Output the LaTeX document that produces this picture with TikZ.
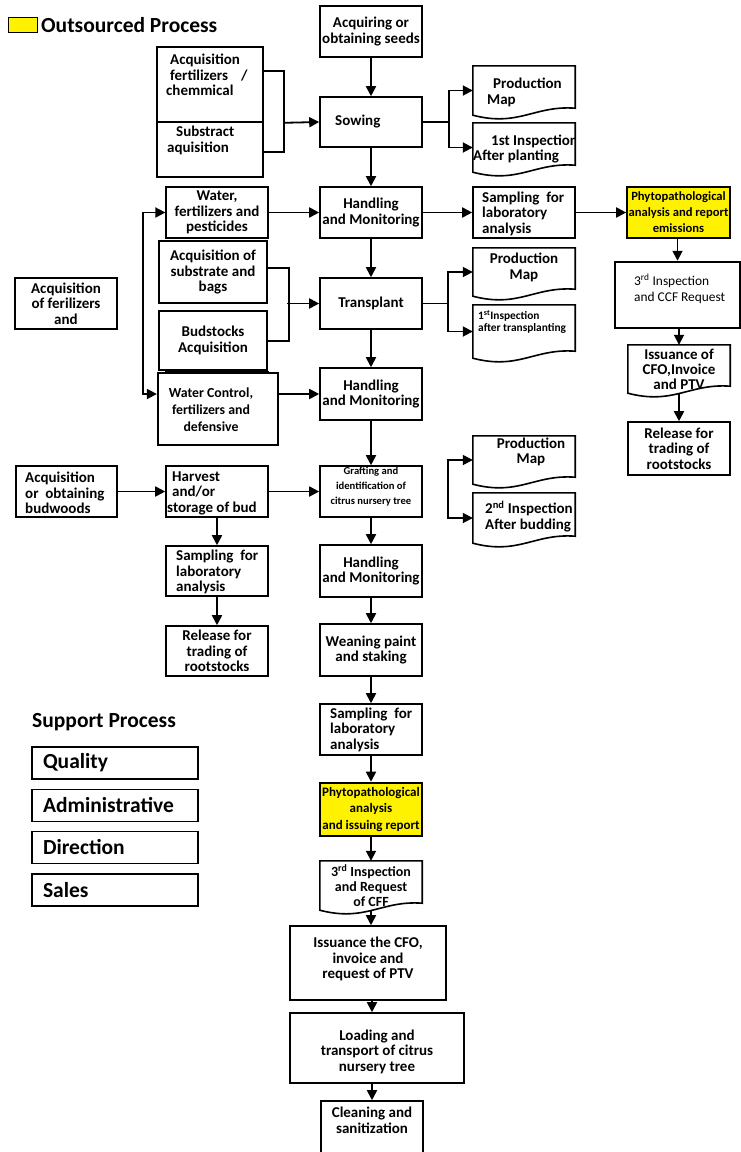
\documentclass[tikz,border=0pt]{standalone}
\usepackage{fontspec}
\setmainfont{Carlito}
\usetikzlibrary{arrows.meta,calc}
\definecolor{hiyellow}{RGB}{255,242,0}
\newcommand\mainfnt{\bfseries\fontsize{15}{15.5}\selectfont}
\newcommand\titlefnt{\bfseries\fontsize{21.5}{24}\selectfont}
\newcommand\graftfnt{\bfseries\fontsize{10.6}{15}\selectfont}
\newcommand\phyfnt{\bfseries\fontsize{12.6}{16}\selectfont}
\newcommand\regfnt{\fontsize{13.4}{16}\selectfont}
\newcommand\wcfnt{\bfseries\fontsize{13.8}{17}\selectfont}
\newcommand\smallbfnt{\bfseries\fontsize{11.4}{12}\selectfont}
\newcommand\inspfnt{\bfseries\fontsize{14}{15}\selectfont}
\newcommand\docline[1]{%
  \draw[docl] (#1.south west) -- (#1.north west) -- (#1.north east) -- ($(#1.south east)+(0,-7)$)
    .. controls ($(#1.south west)!0.6!(#1.south east)+(0,-10)$) and ($(#1.south west)!0.45!(#1.south east)+(0,12)$) .. (#1.south west) -- cycle;}
\begin{document}
\begin{tikzpicture}[x=1pt,y=-1pt,
  box/.style={draw=black, line width=1.6pt, fill=white, inner sep=0pt, align=center, font=\mainfnt, minimum width=102, minimum height=51},
  docn/.style={inner sep=0pt, align=center, font=\mainfnt, minimum width=102},
  docl/.style={draw=black, line width=1.6pt, line join=miter},
  txt/.style={inner sep=0pt, font=\mainfnt},
  ln/.style={line width=1.8pt},
  arr/.style={line width=1.8pt, -{Triangle[width=10pt,length=10pt]}},
  supbox/.style={draw=black, line width=1.6pt, inner sep=0pt, align=left, font=\titlefnt, minimum width=166, minimum height=32, text width=144}
]
\path[use as bounding box] (0,0) rectangle (741,1152);
\clip (0,0) rectangle (741,1152);
\fill[white] (0,0) rectangle (741,1152);

% legend
\node[draw=black, line width=0.9pt, fill=hiyellow, minimum width=29, minimum height=15, inner sep=0pt] (legend) at (22.5,24.5) {};
\node[txt, font=\titlefnt, anchor=west] (outsourced) at (41,25) {Outsourced Process};

% main column
\node[box] (seeds) at (371,31.5) {Acquiring or\\obtaining seeds};
\node[box, minimum height=50] (sowing) at (371,122) {};
\node[txt, anchor=west] (sowing-t) at (335,122) {Sowing};
\node[box] (hm1) at (371,212.5) {Handling\\and Monitoring};
\node[box] (transplant) at (371,303.5) {Transplant};
\node[box, minimum height=52] (hm2) at (371,394) {Handling\\and Monitoring};
\node[box] (graft) at (371,491.5) {};
\node[txt, font=\graftfnt, align=center] (graft-t) at (371,487) {Grafting and\\identification of\\citrus nursery tree};
\node[box, minimum height=52] (hm3) at (371,571) {Handling\\and Monitoring};
\node[box, minimum height=52] (wean) at (371,650) {Weaning paint\\and staking};
\node[box] (samp) at (371,729.5) {};
\node[txt, anchor=west, align=left] (samp-t) at (330,729.5) {Sampling\ \ for\\laboratory\\analysis};
\node[box, fill=hiyellow, line width=2.6pt, minimum height=53, font=\bfseries\fontsize{13}{16.5}\selectfont] (phyto) at (371,809.5) {Phytopathological\\analysis\\and issuing report};
\node[docn, minimum height=49, font=\inspfnt] (insp3) at (371,885.5) {3\textsuperscript{rd} Inspection\\and Request\\of CFF};
\docline{insp3}
\node[box, minimum width=156, minimum height=74] (issue) at (368,963) {};
\node[txt, align=center] (issue-t) at (368,959) {Issuance the CFO,\\invoice and\\request of PTV};
\node[box, minimum width=174, minimum height=70] (load) at (377,1048) {};
\node[txt, align=center] (load-t) at (377,1051.5) {Loading and\\transport of citrus\\nursery tree};
\node[box, minimum height=70] (clean) at (372,1136) {};
\node[txt, align=center] (clean-t) at (372,1120.5) {Cleaning and\\sanitization};

\draw[arr] (seeds) -- (sowing);
\draw[arr] (sowing) -- (hm1);
\draw[arr] (hm1) -- (transplant);
\draw[arr] (transplant) -- (hm2);
\draw[arr] (hm2) -- (graft);
\draw[arr] (graft) -- (hm3);
\draw[arr] (hm3) -- (wean);
\draw[arr] (wean) -- (samp);
\draw[arr] (samp) -- (phyto);
\draw[arr] (phyto) -- (insp3);
\draw[arr] (insp3.south) -- (insp3.south |- issue.north);
\draw[arr] (issue.south -| clean.north) -- (load.north -| clean.north);
\draw[arr] (load.south -| clean.north) -- (clean.north);

% left upper
\node[box, minimum width=106, minimum height=75] (acqfert) at (210,84.5) {};
\node[txt, anchor=north west, align=left] (acqfert-t) at (166,54) {\hspace*{4pt}Acquisition\\\hspace*{4pt}fertilizers\hspace{13pt}/\\chemmical};
\node[box, minimum width=106, minimum height=55] (subacq) at (210,149.5) {};
\node[txt, anchor=north west, align=left] (subacq-t) at (167,126) {\hspace*{9pt}Substract\\aquisition};
\draw[ln] ($(acqfert.north east)+(0,25)$) -- ++(20,0) |- ($(subacq.north east)+(0,31)$);
\draw[arr] ($(acqfert.south east)+(20,0)$) -- (sowing.west);

\node[box, line width=1.3pt] (water) at (217,212.5) {Water,\\fertilizers and\\pesticides};
\node[box, minimum width=108, minimum height=62] (acqsub) at (213,272) {Acquisition of\\substrate and\\bags};
\node[box, minimum width=108, minimum height=59] (budst) at (213,340.5) {Budstocks\\Acquisition};
\node[box, minimum height=70] (hidden) at (217,407) {};
\node[box, line width=2.3pt, minimum width=120, minimum height=72] (wctrl) at (218,409) {};
\node[txt, font=\wcfnt, align=center] (wctrl-t) at (211,409.5) {Water Control,\\fertilizers and\\defensive};
\draw[ln] ($(acqsub.north east)+(0,28)$) -- ++(21,0) |- ($(budst.north east)+(0,31)$);
\draw[arr] ($(transplant.west)+(-32,0)$) -- (transplant.west);
\draw[arr] (water) -- (hm1);
\draw[arr] (wctrl.east |- hm2.west) -- (hm2.west);
\draw[ln, {Triangle[width=10pt,length=10pt]}-{Triangle[width=10pt,length=10pt]}] (water.west) -- ++(-22,0) |- (wctrl.west |- hm2.west);

\node[box] (acqfer2) at (66,303.5) {Acquisition\\of ferilizers\\and};

% left lower
\node[box, minimum width=101] (budw) at (66.5,491.5) {};
\node[txt, anchor=west, align=left] (budw-t) at (25,493) {Acquisition\\or\ \ obtaining\\budwoods};
\node[box] (harv) at (217,491.5) {};
\node[txt, anchor=west, align=left] (harv-t) at (167,493) {\hspace*{5pt}Harvest\\\hspace*{5pt}and/or\\storage of bud};
\node[box, minimum height=50] (sampL) at (217,571) {};
\node[txt, anchor=west, align=left] (sampL-t) at (176,572) {Sampling\ \ for\\laboratory\\analysis};
\node[box, minimum height=50] (relL) at (217,651) {Release for\\trading of\\rootstocks};
\draw[arr] (budw) -- (harv);
\draw[arr] (harv) -- (graft);
\draw[arr] (harv) -- (sampL);
\draw[arr] (sampL) -- (relL);

% right column
\node[docn, minimum height=49] (pm1) at (524,90.5) {};
\docline{pm1}
\node[txt, anchor=west, align=left] (pm1-t) at (487,92.5) {\hspace*{6pt}Production\\Map};
\node[docn, minimum height=49] (insp1) at (524,147.5) {};
\docline{insp1}
\begin{scope}
\clip (insp1.north west) rectangle (insp1.south east);
\node[txt, anchor=west, align=left] (insp1-t) at (473,149) {\hspace*{18pt}1st Inspection\\After planting};
\end{scope}
\draw[ln] (sowing.east) -- ++(26,0) coordinate (s1);
\draw[arr] (s1) |- (pm1.west);
\draw[arr] (s1) |- (insp1.west);

\node[box] (sampR) at (524,212.5) {};
\node[txt, anchor=west, align=left] (sampR-t) at (482,213.5) {Sampling\ \ for\\laboratory\\analysis};
\node[box, fill=hiyellow, minimum width=103, font=\phyfnt] (phyR) at (678.5,212.5) {Phytopathological\\analysis and report\\emissions};
\draw[arr] (hm1) -- (sampR);
\draw[arr] (sampR) -- (phyR);
\node[box, line width=2.5pt, minimum width=125, minimum height=66] (insp3R) at (677.5,295) {};
\node[txt, font=\regfnt, anchor=west, align=left] (insp3R-t) at (634,289) {3\textsuperscript{rd} Inspection\\and CCF Request};
\draw[arr] (phyR.south -| insp3R.north) -- (insp3R.north);
\node[docn, minimum height=48, font=\bfseries\fontsize{15}{15}\selectfont] (issR) at (679,369) {Issuance of\\CFO,Invoice\\and PTV};
\docline{issR}
\draw[arr] (insp3R.south -| issR.north) -- (issR.north);
\node[box, minimum height=53] (relR) at (679,448.5) {Release for\\trading of\\rootstocks};
\draw[arr] (issR.south) -- (relR.north);

\node[docn, minimum height=48] (pm2) at (524,272) {};
\docline{pm2}
\node[txt, align=center] (pm2-t) at (524,267.5) {Production\\Map};
\node[docn, minimum height=53] (insp1t) at (524,331.5) {};
\docline{insp1t}
\node[txt, font=\smallbfnt, anchor=north west, align=left] (insp1t-t) at (478,310) {1\textsuperscript{st}Inspection\\after transplanting};
\draw[ln] (transplant.east) -- ++(25,0) coordinate (t1);
\draw[arr] (t1) |- (pm2.west);
\draw[arr] (t1) |- (insp1t.west);

\node[docn, minimum height=48] (pm3) at (524,460) {};
\docline{pm3}
\node[txt, align=center] (pm3-t) at (531,452) {Production\\Map};
\node[docn, minimum height=50] (insp2) at (524,518) {};
\docline{insp2}
\begin{scope}
\clip (insp2.north west) rectangle (insp2.south east);
\node[txt, anchor=west, align=left] (insp2-t) at (485,516.5) {2\textsuperscript{nd} Inspection\\After budding};
\end{scope}
\coordinate (g1) at (448,491.5);
\draw[arr] (g1) |- (pm3.west);
\draw[arr] (g1) |- (insp2.west);

% support process
\node[txt, font=\titlefnt, anchor=west] (support) at (32,722) {Support Process};
\node[supbox] (quality) at (115,763) {Quality};
\node[supbox] (admin) at (115,805.5) {Administrative};
\node[supbox] (direction) at (115,847.5) {Direction};
\node[supbox] (sales) at (115,890) {Sales};
\end{tikzpicture}
\end{document}
